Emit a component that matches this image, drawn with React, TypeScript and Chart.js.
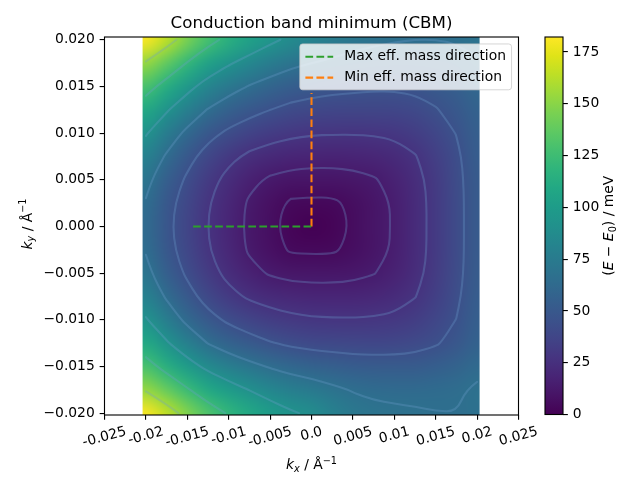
import React, { useEffect, useRef } from "react";
import { Chart, registerables } from "chart.js";

Chart.register(...registerables);

// ---------------- data ----------------
const KX = [-0.02, -0.0175, -0.015, -0.0125, -0.01, -0.0075, -0.005, -0.0025, 0, 0.0025, 0.005, 0.0075, 0.01, 0.0125, 0.015, 0.0175, 0.02];
const KY = [0.02, 0.0175, 0.015, 0.0125, 0.01, 0.0075, 0.005, 0.0025, 0, -0.0025, -0.005, -0.0075, -0.01, -0.0125, -0.015, -0.0175, -0.02];
// E - E0 in meV, rows follow KY (top to bottom), columns follow KX
const ENERGY_MEV = [
  [181, 164, 145, 128, 115, 104, 95, 87, 82, 77, 72, 69, 67, 66, 66, 67, 69],
  [153, 137, 120, 104, 93, 84, 76, 70, 66, 63, 60, 59, 58, 58, 59, 61, 65],
  [129, 113, 97, 83, 73, 65, 59, 54, 51, 49, 48, 47, 47, 48, 51, 55, 61],
  [109, 93, 78, 65, 56, 50, 45, 41, 39, 38, 37.5, 37.5, 38, 40, 44, 50, 57],
  [92.5, 76, 62, 50, 42, 36, 32, 29.6, 28, 27.7, 27.6, 28, 29.3, 32.3, 37.8, 45.4, 54.8],
  [79.6, 64, 50, 38.7, 30.3, 24.4, 21, 18.9, 18, 17.9, 18.3, 19.2, 21.6, 26.3, 33.6, 42.6, 53],
  [70.4, 55, 42.6, 31.6, 23.1, 16.5, 12.5, 10.4, 10, 10, 11, 13.1, 16.9, 23.1, 31.6, 41.4, 52.2],
  [64.8, 50, 38.3, 27.9, 19.8, 12.7, 7.7, 3.8, 3.3, 3.5, 6.5, 10.2, 15.1, 22, 31, 41, 52],
  [63, 48.5, 37, 27, 19, 12, 7, 2, 0, 1.6, 6, 10, 15, 22, 31, 41, 52],
  [64.8, 50, 38.3, 27.9, 19.8, 12.8, 7.8, 4.1, 3.7, 3.9, 6.7, 10.3, 15.2, 22.1, 31, 41, 52],
  [70.4, 55, 42.6, 31.7, 23.4, 16.9, 13, 11.1, 10.7, 10.7, 11.5, 13.6, 17.2, 23.3, 31.7, 41.4, 52.3],
  [79.6, 64, 50.4, 38.9, 30.8, 25.1, 21.7, 19.7, 18.8, 18.7, 18.9, 20, 22.1, 26.6, 33.8, 42.8, 53],
  [92.5, 76.4, 62, 50.2, 42.2, 36.5, 32.6, 30, 28.4, 28, 27.8, 28.2, 29.4, 32.3, 37.7, 45.2, 54.5],
  [109, 93, 78, 65.5, 57, 51, 46, 42.3, 40, 39, 38.1, 37.9, 38.4, 40.1, 43.7, 49.2, 57],
  [129, 114, 99, 86.5, 77.4, 70.5, 64.6, 60, 57, 54.9, 52.8, 52, 51.7, 52.2, 54.1, 57.5, 62.7],
  [153, 138.5, 123, 109, 99, 90.6, 83.5, 77.8, 74, 69.1, 65.1, 63.3, 62.7, 62.6, 63.1, 64.5, 67.7],
  [181, 165, 147.5, 131, 119, 109, 100, 93, 88, 79.6, 72.9, 69.6, 68.2, 67.3, 66.3, 66.1, 67.1],
];
const HEAT_KX_RANGE = [-0.0204, 0.0203];
const HEAT_KY_RANGE = [-0.0203, 0.0203];
const CONTOUR_LEVELS = [5, 14, 27, 45, 66, 91, 121, 155];
const E_MAX = 182.2;

const MAX_DIR_X = [-0.0143, 0];
const MAX_DIR_Y = [0, 0];
const MIN_DIR_X = [0, 0];
const MIN_DIR_Y = [0, 0.0143];

const X_TICKS = [-0.025, -0.02, -0.015, -0.01, -0.005, 0, 0.005, 0.01, 0.015, 0.02, 0.025];
const X_TICK_LABELS = ["-0.025", "-0.02", "-0.015", "-0.01", "-0.005", "0.0", "0.005", "0.01", "0.015", "0.02", "0.025"];
const Y_TICKS = [-0.02, -0.015, -0.01, -0.005, 0, 0.005, 0.01, 0.015, 0.02];
const CB_TICKS = [0, 25, 50, 75, 100, 125, 150, 175];

// ---------------- style ----------------
const FONT = "'DejaVu Sans', sans-serif";
const FS = 13.89;
const PT = 100 / 72;
const VIRIDIS = [
  "#440154", "#471365", "#482475", "#463480", "#414487", "#3b528b", "#355f8d",
  "#2f6c8e", "#2a788e", "#25848e", "#21918c", "#1e9c89", "#22a884", "#2fb47c",
  "#44bf70", "#5ec962", "#7ad151", "#9bd93c", "#bddf26", "#dfe318", "#fde725",
];
const CONTOUR_COLOR = "rgba(110,160,205,0.3)";

function hexRGB(h: string) {
  return [parseInt(h.slice(1, 3), 16), parseInt(h.slice(3, 5), 16), parseInt(h.slice(5, 7), 16)];
}
const VIRIDIS_RGB = VIRIDIS.map(hexRGB);
function viridis(t: number) {
  const tt = Math.max(0, Math.min(1, t)) * (VIRIDIS_RGB.length - 1);
  const i = Math.min(VIRIDIS_RGB.length - 2, Math.floor(tt));
  const f = tt - i;
  const a = VIRIDIS_RGB[i], b = VIRIDIS_RGB[i + 1];
  return [0, 1, 2].map((k) => Math.round(a[k] + (b[k] - a[k]) * f));
}

function buildHeatImage() {
  const nx = KX.length, ny = KY.length;
  const c = document.createElement("canvas");
  c.width = nx;
  c.height = ny;
  const g = c.getContext("2d") as CanvasRenderingContext2D;
  const img = g.createImageData(nx, ny);
  for (let i = 0; i < ny; i++) {
    for (let j = 0; j < nx; j++) {
      const [r, gg, b] = viridis(ENERGY_MEV[i][j] / E_MAX);
      const k = (i * nx + j) * 4;
      img.data[k] = r;
      img.data[k + 1] = gg;
      img.data[k + 2] = b;
      img.data[k + 3] = 255;
    }
  }
  g.putImageData(img, 0, 0);
  return c;
}

function contourSegments(level: number) {
  const segs: number[][] = [];
  const lerp = (p: number, q: number, vp: number, vq: number) => p + ((level - vp) / (vq - vp)) * (q - p);
  for (let i = 0; i < KY.length - 1; i++) {
    for (let j = 0; j < KX.length - 1; j++) {
      const x0 = KX[j], x1 = KX[j + 1], y0 = KY[i], y1 = KY[i + 1];
      const a = ENERGY_MEV[i][j], b = ENERGY_MEV[i][j + 1];
      const c = ENERGY_MEV[i + 1][j + 1], d = ENERGY_MEV[i + 1][j];
      const pts: number[][] = [];
      if (a < level !== b < level) pts.push([lerp(x0, x1, a, b), y0]);
      if (b < level !== c < level) pts.push([x1, lerp(y0, y1, b, c)]);
      if (d < level !== c < level) pts.push([lerp(x0, x1, d, c), y1]);
      if (a < level !== d < level) pts.push([x0, lerp(y0, y1, a, d)]);
      if (pts.length === 2) segs.push([...pts[0], ...pts[1]]);
      else if (pts.length === 4) {
        segs.push([...pts[0], ...pts[1]]);
        segs.push([...pts[2], ...pts[3]]);
      }
    }
  }
  return segs;
}

// join marching-squares segments into polylines
function contourPaths(level: number) {
  const segs = contourSegments(level);
  const key = (x: number, y: number) => x.toFixed(8) + "," + y.toFixed(8);
  const adj = new Map<string, number[]>();
  segs.forEach((s, i) => {
    [key(s[0], s[1]), key(s[2], s[3])].forEach((k) => {
      if (!adj.has(k)) adj.set(k, []);
      (adj.get(k) as number[]).push(i);
    });
  });
  const used = segs.map(() => false);
  const paths: number[][][] = [];
  const extend = (pts: number[][]) => {
    for (;;) {
      const last = pts[pts.length - 1];
      const k = key(last[0], last[1]);
      const cand = (adj.get(k) || []).find((j) => !used[j]);
      if (cand === undefined) break;
      used[cand] = true;
      const s = segs[cand];
      pts.push(key(s[0], s[1]) === k ? [s[2], s[3]] : [s[0], s[1]]);
    }
  };
  segs.forEach((s, i) => {
    if (used[i]) return;
    used[i] = true;
    const pts = [[s[0], s[1]], [s[2], s[3]]];
    extend(pts);
    pts.reverse();
    extend(pts);
    paths.push(pts);
  });
  return paths;
}

type Seg = { t: string; it?: boolean; sc?: number; dy?: number };
function drawRich(ctx: CanvasRenderingContext2D, segs: Seg[], x: number, y: number, angle: number, size: number) {
  ctx.save();
  ctx.translate(x, y);
  ctx.rotate(angle);
  const fonts = segs.map((s) => `${s.it ? "italic " : ""}${(size * (s.sc || 1)).toFixed(2)}px ${FONT}`);
  const ws = segs.map((s, i) => {
    ctx.font = fonts[i];
    return ctx.measureText(s.t).width;
  });
  let cx = -ws.reduce((p, q) => p + q, 0) / 2;
  ctx.textAlign = "left";
  ctx.textBaseline = "alphabetic";
  ctx.fillStyle = "#000";
  segs.forEach((s, i) => {
    ctx.font = fonts[i];
    ctx.fillText(s.t, cx, s.dy || 0);
    cx += ws[i];
  });
  ctx.restore();
}

function makeMainPlugin(heatImage: HTMLCanvasElement) {
  return {
    id: "heatmapAndDecor",
    beforeDatasetsDraw(chart: any) {
      const { ctx, chartArea: ca } = chart;
      const xs = chart.scales.x, ys = chart.scales.y;
      const hx = (KX[1] - KX[0]) / 2, hy = Math.abs(KY[0] - KY[1]) / 2;
      const left = xs.getPixelForValue(KX[0] - hx);
      const right = xs.getPixelForValue(KX[KX.length - 1] + hx);
      const top = ys.getPixelForValue(KY[0] + hy);
      const bottom = ys.getPixelForValue(KY[KY.length - 1] - hy);
      const cl = Math.max(ca.left, xs.getPixelForValue(HEAT_KX_RANGE[0]));
      const cr = Math.min(ca.right, xs.getPixelForValue(HEAT_KX_RANGE[1]));
      const ct = Math.max(ca.top, ys.getPixelForValue(HEAT_KY_RANGE[1]));
      const cb = Math.min(ca.bottom, ys.getPixelForValue(HEAT_KY_RANGE[0]));
      ctx.save();
      ctx.beginPath();
      ctx.rect(cl, ct, cr - cl, cb - ct);
      ctx.clip();
      ctx.imageSmoothingEnabled = true;
      ctx.imageSmoothingQuality = "high";
      ctx.drawImage(heatImage, left, top, right - left, bottom - top);
      ctx.strokeStyle = CONTOUR_COLOR;
      ctx.lineWidth = 1.5 * PT;
      ctx.lineJoin = "round";
      ctx.lineCap = "round";
      for (const L of CONTOUR_LEVELS) {
        ctx.beginPath();
        for (const path of contourPaths(L)) {
          const p = path.map((q) => [xs.getPixelForValue(q[0]), ys.getPixelForValue(q[1])]);
          ctx.moveTo(p[0][0], p[0][1]);
          if (p.length === 2) {
            ctx.lineTo(p[1][0], p[1][1]);
            continue;
          }
          for (let i = 1; i < p.length - 1; i++) {
            const mx = (p[i][0] + p[i + 1][0]) / 2, my = (p[i][1] + p[i + 1][1]) / 2;
            if (i === p.length - 2) ctx.quadraticCurveTo(p[i][0], p[i][1], p[i + 1][0], p[i + 1][1]);
            else ctx.quadraticCurveTo(p[i][0], p[i][1], mx, my);
          }
        }
        ctx.stroke();
      }
      ctx.restore();
    },
    afterDatasetsDraw(chart: any) {
      const { ctx, chartArea: ca } = chart;
      // frame (spines)
      ctx.save();
      ctx.strokeStyle = "#000";
      ctx.lineWidth = 0.8 * PT;
      ctx.strokeRect(ca.left, ca.top, ca.right - ca.left, ca.bottom - ca.top);
      ctx.restore();
      // legend
      const ds = chart.data.datasets;
      ctx.save();
      ctx.font = `${FS}px ${FONT}`;
      const textW = Math.max(...ds.map((d: any) => ctx.measureText(d.label).width));
      const pad = 0.4 * FS, handle = 2 * FS, hpad = 0.8 * FS, rowH = FS, spacing = 0.5 * FS;
      const w = pad * 2 + handle + hpad + textW;
      const h = pad * 2 + ds.length * rowH + (ds.length - 1) * spacing;
      const right = ca.right - 0.5 * FS, top = ca.top + 0.5 * FS;
      const left = right - w;
      ctx.beginPath();
      (ctx as any).roundRect(left, top, w, h, 0.2 * FS);
      ctx.fillStyle = "rgba(255,255,255,0.8)";
      ctx.fill();
      ctx.strokeStyle = "rgba(204,204,204,0.8)";
      ctx.lineWidth = 1;
      ctx.stroke();
      ds.forEach((d: any, i: number) => {
        const cy = top + pad + rowH / 2 + i * (rowH + spacing) + 0.3;
        ctx.save();
        ctx.strokeStyle = d.borderColor;
        ctx.lineWidth = d.borderWidth;
        ctx.setLineDash(d.borderDash || []);
        ctx.beginPath();
        ctx.moveTo(left + pad, cy);
        ctx.lineTo(left + pad + handle, cy);
        ctx.stroke();
        ctx.restore();
        ctx.fillStyle = "#000";
        ctx.textAlign = "left";
        ctx.textBaseline = "middle";
        ctx.fillText(d.label, left + pad + handle + hpad, cy);
      });
      ctx.restore();
    },
    afterDraw(chart: any) {
      const { ctx, chartArea: ca } = chart;
      const xs = chart.scales.x;
      // rotated x tick labels (centred on their ticks)
      ctx.save();
      ctx.font = `${FS}px ${FONT}`;
      ctx.fillStyle = "#000";
      ctx.textAlign = "center";
      ctx.textBaseline = "middle";
      const th = (15 * Math.PI) / 180;
      X_TICKS.forEach((v, i) => {
        const label = X_TICK_LABELS[i];
        const w = ctx.measureText(label).width;
        const bh = w * Math.sin(th) + FS * Math.cos(th);
        const px = xs.getPixelForValue(v);
        const cy = ca.bottom + 9.7 + bh / 2;
        ctx.save();
        ctx.translate(px, cy);
        ctx.rotate(-th);
        ctx.fillText(label, 0, 0);
        ctx.restore();
      });
      ctx.restore();
      // axis titles
      const midX = (ca.left + ca.right) / 2;
      const midY = (ca.top + ca.bottom) / 2;
      drawRich(
        ctx,
        [
          { t: "k", it: true },
          { t: "x", it: true, sc: 0.7, dy: 2.8 },
          { t: " / Å" },
          { t: "−1", sc: 0.7, dy: -5.5 },
        ],
        midX,
        ca.bottom + 54,
        0,
        FS
      );
      drawRich(
        ctx,
        [
          { t: "k", it: true },
          { t: "y", it: true, sc: 0.7, dy: 2.8 },
          { t: " / Å" },
          { t: "−1", sc: 0.7, dy: -5.5 },
        ],
        ca.left - 73,
        midY - 2,
        -Math.PI / 2,
        FS
      );
    },
  };
}

const cbPlugin = {
  id: "colorbarDecor",
  afterDatasetsDraw(chart: any) {
    const { ctx, chartArea: ca } = chart;
    ctx.save();
    ctx.strokeStyle = "#000";
    ctx.lineWidth = 0.8 * PT;
    ctx.strokeRect(ca.left, ca.top, ca.right - ca.left, ca.bottom - ca.top);
    ctx.restore();
  },
  afterDraw(chart: any) {
    const { ctx, chartArea: ca } = chart;
    drawRich(
      ctx,
      [
        { t: "(" },
        { t: "E", it: true },
        { t: " − " },
        { t: "E", it: true },
        { t: "0", sc: 0.7, dy: 2.8 },
        { t: ") / meV" },
      ],
      ca.right + 50,
      (ca.top + ca.bottom) / 2,
      -Math.PI / 2,
      FS
    );
  },
};

export default function App() {
  const mainRef = useRef<HTMLCanvasElement>(null);
  const cbRef = useRef<HTMLCanvasElement>(null);

  useEffect(() => {
    Chart.defaults.font.family = FONT;
    Chart.defaults.font.size = FS;
    Chart.defaults.color = "#000";
    const heatImage = buildHeatImage();

    const tickGrid = {
      display: true,
      drawOnChartArea: false,
      drawTicks: true,
      tickLength: 3.5 * PT,
      tickWidth: 0.8 * PT,
      tickColor: "#000",
      lineWidth: 0.8 * PT,
      color: "#000",
    };

    const lineStyle = {
      showLine: true,
      borderWidth: 1.5 * PT,
      borderDash: [3.7 * 1.5 * PT, 1.6 * 1.5 * PT],
      pointRadius: 0,
      fill: false,
    };

    const main = new Chart(mainRef.current as HTMLCanvasElement, {
      type: "scatter",
      data: {
        datasets: [
          {
            label: "Max eff. mass direction",
            data: MAX_DIR_X.map((x, i) => ({ x, y: MAX_DIR_Y[i] })),
            borderColor: "#2ca02c",
            backgroundColor: "#2ca02c",
            ...lineStyle,
          },
          {
            label: "Min eff. mass direction",
            data: MIN_DIR_X.map((x, i) => ({ x, y: MIN_DIR_Y[i] })),
            borderColor: "#ff7f0e",
            backgroundColor: "#ff7f0e",
            ...lineStyle,
          },
        ],
      },
      options: {
        animation: false,
        responsive: false,
        maintainAspectRatio: false,
        events: [],
        layout: { padding: { left: 0, right: 121.5, top: 0, bottom: 0 } },
        plugins: {
          legend: { display: false },
          tooltip: { enabled: false },
          title: {
            display: true,
            text: "Conduction band minimum (CBM)",
            fullSize: false,
            color: "#000",
            font: { family: FONT, size: 16.67, weight: "normal", lineHeight: 1.2 },
            padding: { top: 14, bottom: 3 },
          },
        },
        scales: {
          x: {
            type: "linear",
            min: -0.025,
            max: 0.025,
            afterBuildTicks: (a: any) => {
              a.ticks = X_TICKS.map((v) => ({ value: v }));
            },
            afterFit: (s: any) => {
              s.height = 65;
            },
            ticks: { display: false },
            grid: tickGrid,
            border: { display: false },
          },
          y: {
            type: "linear",
            min: -0.0202,
            max: 0.0203,
            afterBuildTicks: (a: any) => {
              a.ticks = Y_TICKS.map((v) => ({ value: v }));
            },
            afterFit: (s: any) => {
              s.width = 104.5;
            },
            ticks: {
              color: "#000",
              font: { family: FONT, size: FS },
              padding: 3.5 * PT,
              autoSkip: false,
              callback: (v: any) => {
                const n = Number(v);
                const s = Math.abs(n).toFixed(3);
                return n < -1e-12 ? "−" + s : s;
              },
            },
            grid: tickGrid,
            border: { display: false },
          },
        },
      } as any,
      plugins: [makeMainPlugin(heatImage)],
    });

    const cb = new Chart(cbRef.current as HTMLCanvasElement, {
      type: "bar",
      data: {
        labels: [""],
        datasets: [
          {
            data: [[0, E_MAX]],
            backgroundColor: (c: any) => {
              const ch = c.chart;
              if (!ch.chartArea) return VIRIDIS[0];
              const ys = ch.scales.y;
              const g = ch.ctx.createLinearGradient(0, ys.getPixelForValue(0), 0, ys.getPixelForValue(E_MAX));
              VIRIDIS.forEach((col, i) => g.addColorStop(i / (VIRIDIS.length - 1), col));
              return g;
            },
            borderWidth: 0,
            barPercentage: 1,
            categoryPercentage: 1,
          } as any,
        ],
      },
      options: {
        animation: false,
        responsive: false,
        maintainAspectRatio: false,
        events: [],
        layout: { padding: { left: 5, top: 37, bottom: 65.5, right: 0 } },
        plugins: { legend: { display: false }, tooltip: { enabled: false } },
        scales: {
          x: { display: false },
          y: {
            position: "right",
            min: 0,
            max: E_MAX,
            afterBuildTicks: (a: any) => {
              a.ticks = CB_TICKS.map((v) => ({ value: v }));
            },
            afterFit: (s: any) => {
              s.width = 77;
            },
            ticks: { color: "#000", font: { family: FONT, size: FS }, padding: 3.5 * PT, autoSkip: false },
            grid: tickGrid,
            border: { display: false },
          },
        },
      } as any,
      plugins: [cbPlugin],
    });

    return () => {
      main.destroy();
      cb.destroy();
    };
  }, []);

  return (
    <div style={{ position: "absolute", left: 0, top: 0, width: 640, height: 480, background: "#fff" }}>
      <canvas
        ref={mainRef}
        width={640}
        height={480}
        style={{ position: "absolute", left: 0, top: 0, width: 640, height: 480 }}
      />
      <canvas
        ref={cbRef}
        width={100}
        height={480}
        style={{ position: "absolute", left: 540, top: 0, width: 100, height: 480 }}
      />
    </div>
  );
}
